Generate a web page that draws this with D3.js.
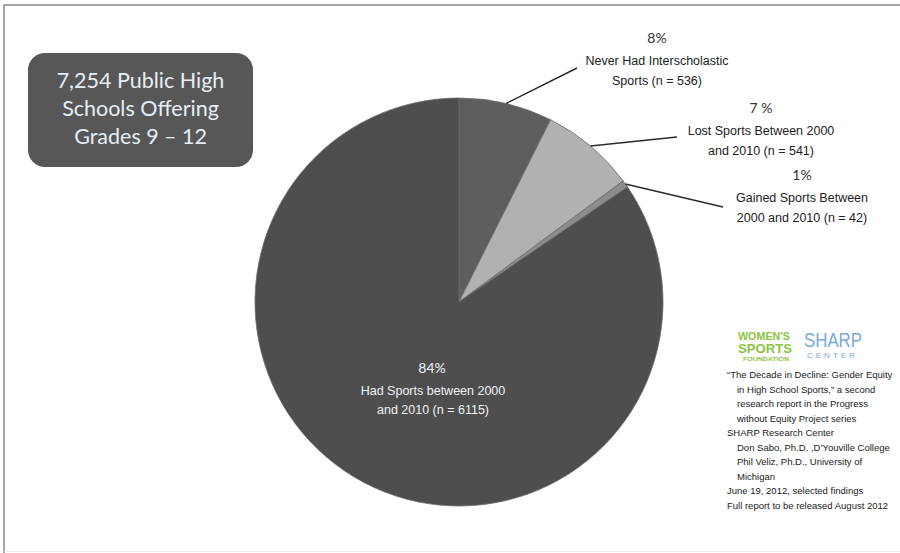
<!DOCTYPE html>
<html><head><meta charset="utf-8">
<script src="https://cdn.jsdelivr.net/npm/d3@7/dist/d3.min.js"></script>
<style>html,body{margin:0;padding:0;background:#fff;}svg{display:block;}</style>
</head><body>
<svg id="c" width="900" height="553"></svg>
<script>
const categories = ["Never Had Interscholastic Sports", "Lost Sports Between 2000 and 2010", "Gained Sports Between 2000 and 2010", "Had Sports between 2000 and 2010"];
const counts = [536, 541, 42, 6115];
const pctLabels = ["8%", "7 %", "1%", "84%"];
const labelLines = [
  ["Never Had Interscholastic", "Sports (n = 536)"],
  ["Lost Sports  Between 2000", "and 2010 (n = 541)"],
  ["Gained Sports Between", "2000 and 2010 (n = 42)"],
  ["Had Sports  between 2000", "and 2010 (n = 6115)"]
];
const colors = ["#5e5e5e", "#b1b1b1", "#8c8c8c", "#4e4e4e"];
const titleLines = ["7,254 Public High", "Schools Offering", "Grades 9\u202F\u2013\u202F12"];
const citation = [
  ["\u201CThe Decade in Decline: Gender Equity", 0],
  ["in High School Sports,\u201D a second", 1],
  ["research report in the Progress", 1],
  ["without Equity Project series", 1],
  ["SHARP Research Center", 0],
  ["Don Sabo, Ph.D. ,D\u2019Youville College", 1],
  ["Phil Veliz,  Ph.D., University of", 1],
  ["Michigan", 1],
  ["June 19, 2012, selected findings", 0],
  ["Full report to be released August 2012", 0]
];

const svg = d3.select("#c");
// frame
svg.append("line").attr("x1",4).attr("y1",5).attr("x2",900).attr("y2",5).attr("stroke","#a6a6a6").attr("stroke-width",2);
svg.append("line").attr("x1",4).attr("y1",4).attr("x2",4).attr("y2",553).attr("stroke","#a6a6a6").attr("stroke-width",2);
svg.append("line").attr("x1",4).attr("y1",551.5).attr("x2",900).attr("y2",551.5).attr("stroke","#ececec").attr("stroke-width",1);

// title box
const tb = svg.append("g");
tb.append("rect").attr("x",28).attr("y",53).attr("width",225).attr("height",114).attr("rx",17).attr("fill","#575757");
tb.selectAll("text").data(titleLines).join("text")
  .attr("x",140.5).attr("y",(d,i)=>88+i*28)
  .attr("text-anchor","middle").attr("fill","#e6eef5")
  .attr("font-family","Lato, 'Open Sans', sans-serif").attr("font-size",21.5)
  .text(d=>d);

// pie
const cx = 459, cy = 302, R = 204;
const pie = d3.pie().sort(null).value(d=>d)(counts);
const arc = d3.arc().innerRadius(0).outerRadius(R);
const g = svg.append("g").attr("transform",`translate(${cx},${cy})`);
g.selectAll("path").data(pie).join("path")
  .attr("d",arc).attr("fill",(d,i)=>colors[i])
  .attr("stroke","#6c6c6c").attr("stroke-width",0.8);

// leader lines & outside labels
const labelPos = [
  {x:657, y:38, lx:577, ly:68},
  {x:761, y:108, lx:677, ly:137},
  {x:802, y:175, lx:723, ly:207}
];
const lab = svg.append("g");
labelPos.forEach((p,i)=>{
  const a = (pie[i].startAngle+pie[i].endAngle)/2;
  const sx = cx + R*Math.sin(a), sy = cy - R*Math.cos(a);
  lab.append("line").attr("x1",sx).attr("y1",sy).attr("x2",p.lx).attr("y2",p.ly)
    .attr("stroke","#2a2a2a").attr("stroke-width",1.4);
  lab.append("text").attr("x",p.x).attr("y",p.y+5).attr("text-anchor","middle")
    .attr("font-family","Lato, sans-serif").attr("font-size",14).attr("fill","#333")
    .text(pctLabels[i]);
  labelLines[i].forEach((t,j)=>{
    lab.append("text").attr("x",p.x).attr("y",p.y+27+j*20).attr("text-anchor","middle")
      .attr("font-family","'Liberation Sans Narrow', 'Arial Narrow', sans-serif").attr("font-size",12.5).attr("fill","#222")
      .text(t);
  });
});
// inside label
lab.append("text").attr("x",432).attr("y",373).attr("text-anchor","middle")
  .attr("font-family","Lato, sans-serif").attr("font-size",14).attr("fill","#f0f3f7").text(pctLabels[3]);
labelLines[3].forEach((t,j)=>{
  lab.append("text").attr("x",433).attr("y",395+j*19).attr("text-anchor","middle")
    .attr("font-family","'Liberation Sans Narrow', 'Arial Narrow', sans-serif").attr("font-size",12.5).attr("fill","#f0f3f7")
    .text(t);
});

// logos
const lg = svg.append("g").attr("font-family","'Liberation Sans Narrow', 'Arial Narrow', sans-serif").attr("font-weight","bold");
lg.append("text").attr("x",738).attr("y",340).attr("fill","#8cc43f").attr("font-size",10).attr("textLength",52).attr("lengthAdjust","spacingAndGlyphs").text("WOMEN'S");
lg.append("text").attr("x",738).attr("y",353).attr("fill","#8cc43f").attr("font-size",13).attr("textLength",54).attr("lengthAdjust","spacingAndGlyphs").text("SPORTS");
lg.append("text").attr("x",743).attr("y",361).attr("fill","#8cc43f").attr("font-size",6).attr("textLength",46).attr("lengthAdjust","spacingAndGlyphs").text("FOUNDATION");
lg.append("text").attr("x",804).attr("y",347).attr("fill","#7aa9d9").attr("font-size",21).attr("font-weight","normal").attr("textLength",58).attr("lengthAdjust","spacingAndGlyphs").text("SHARP");
lg.append("text").attr("x",807).attr("y",358).attr("fill","#7aa9d9").attr("font-size",8).attr("font-weight","normal").attr("letter-spacing",3).text("CENTER");

// citation
svg.append("g").selectAll("text").data(citation).join("text")
  .attr("x",d=>d[1]?737:727).attr("y",(d,i)=>378+i*14.5)
  .attr("font-family","'Liberation Sans Narrow', 'Arial Narrow', sans-serif").attr("font-size",9.5).attr("fill","#1a1a1a")
  .text(d=>d[0]);
</script>
</body></html>
